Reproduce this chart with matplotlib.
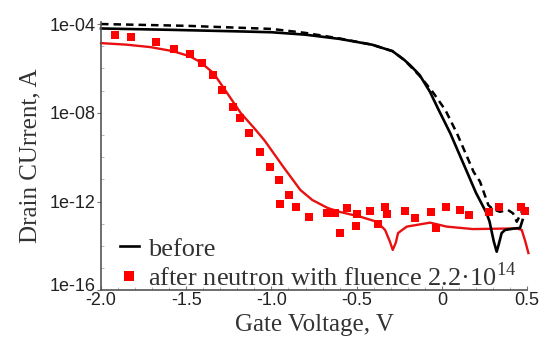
import numpy as np
import matplotlib
matplotlib.use('Agg')
import matplotlib.pyplot as plt
import matplotlib.transforms as mtransforms
from matplotlib.ticker import FixedLocator, MultipleLocator, NullFormatter

plt.rcParams['mathtext.fontset'] = 'custom'
plt.rcParams['mathtext.rm'] = 'Liberation Serif'

# before, solid (gate voltage V, log10 of drain current A)
before_v = [-2.0, -1.6, -1.2, -1.0, -0.8, -0.6, -0.41, -0.29, -0.22, -0.18, -0.13,
            -0.07, -0.018, 0.05, 0.148, 0.2, 0.263, 0.28, 0.305, 0.322, 0.335,
            0.351, 0.371, 0.42, 0.459, 0.474]
before_log = [-4.20, -4.26, -4.33, -4.37, -4.48, -4.67, -4.93, -5.22, -5.62, -5.9, -6.30,
              -7.05, -7.88, -8.93, -10.67, -11.6, -12.53, -12.9, -13.8, -14.26, -13.9,
              -13.42, -13.28, -13.22, -13.19, -12.83]

# before, dashed
dash_v = [-2.0, -1.5, -1.0, -0.8, -0.6, -0.41, -0.29, -0.22, -0.126, -0.05, 0.021,
          0.089, 0.187, 0.224, 0.273, 0.30, 0.341, 0.388, 0.418, 0.44, 0.469, 0.488]
dash_log = [-4.0, -4.08, -4.22, -4.40, -4.65, -4.93, -5.22, -5.62, -6.37, -7.1, -7.88,
            -8.93, -10.67, -11.1, -12.16, -12.35, -12.46, -12.38, -12.53, -12.91, -12.46, -12.29]

# after neutron, line
after_v = [-2.0, -1.85, -1.71, -1.58, -1.48, -1.42, -1.34, -1.26, -1.18, -1.10, -1.04,
           -0.93, -0.83, -0.76, -0.67, -0.597, -0.48, -0.382, -0.333, -0.305, -0.288,
           -0.27, -0.257, -0.206, -0.069, 0.029, 0.183, 0.44, 0.469, 0.49, 0.508]
after_log = [-4.86, -4.93, -5.04, -5.22, -5.45, -5.70, -6.21, -7.11, -8.01, -8.70, -9.25,
             -10.44, -11.48, -11.93, -12.29, -12.47, -12.68, -12.91, -13.28, -13.8, -14.18,
             -13.85, -13.42, -13.13, -12.95, -13.13, -13.24, -13.21, -13.28, -13.8, -14.32]

# after neutron, squares
pts_v = [-1.918, -1.824, -1.677, -1.570, -1.478, -1.409, -1.344, -1.288, -1.224, -1.184,
         -1.131, -1.067, -1.008, -0.954, -0.895, -0.950, -0.854, -0.781, -0.675, -0.627,
         -0.558, -0.597, -0.499, -0.504, -0.421, -0.376, -0.333, -0.323, -0.216, -0.160,
         -0.065, -0.036, 0.025, 0.104, 0.160, 0.277, 0.334, 0.462, 0.491]
pts_log = [-4.50, -4.60, -4.82, -5.13, -5.37, -5.77, -6.30, -6.97, -7.73, -8.25,
           -8.91, -9.75, -10.43, -11.03, -11.71, -12.13, -12.23, -12.68, -12.50, -12.53,
           -12.31, -13.40, -12.58, -13.10, -12.43, -13.03, -12.26, -12.58, -12.41, -12.73,
           -12.46, -13.18, -12.23, -12.38, -12.61, -12.49, -12.26, -12.26, -12.43]

xticks = [-2.0, -1.5, -1.0, -0.5, 0, 0.5]
xlabels = ['-2.0', '-1.5', '-1.0', '-0.5', '0', '0.5']
yticks = [1e-16, 1e-12, 1e-8, 1e-4]
ylabels = ['1e-16', '1e-12', '1e-08', '1e-04']

fig = plt.figure(figsize=(5.44, 3.43), dpi=100)
ax = fig.add_axes([0.1857, 0.1536, 0.7831, 0.7828])

ax.plot(dash_v, 10.0 ** np.array(dash_log), color='black', lw=1.8,
        dashes=(3, 2), clip_on=False)
ax.plot(after_v, 10.0 ** np.array(after_log), color='#e81010', lw=1.7, clip_on=False)
ax.plot(before_v, 10.0 ** np.array(before_log), color='black', lw=1.9,
        label='before', clip_on=False)
ax.plot(pts_v, 10.0 ** np.array(pts_log), 's', color='#ff0000', ms=5.5, mew=0,
        label='after neutron with fluence 2.2·$10^{14}$', clip_on=False)

ax.set_yscale('log')
ax.set_xlim(-2.0, 0.5)
ax.set_ylim(1e-16, 10 ** -3.9)

ax.yaxis.set_major_locator(FixedLocator(yticks))
ax.set_yticklabels(ylabels)
ax.yaxis.set_minor_locator(FixedLocator([10.0 ** k for k in range(-16, -3)]))
ax.yaxis.set_minor_formatter(NullFormatter())
ax.set_xticks(xticks)
ax.set_xticklabels(xlabels)
ax.xaxis.set_minor_locator(MultipleLocator(0.1))

for s in ['top', 'right']:
    ax.spines[s].set_visible(False)
for s in ['left', 'bottom']:
    ax.spines[s].set_color('#555555')
    ax.spines[s].set_linewidth(1.2)

ax.tick_params(axis='both', which='major', length=3, color='#777777', pad=1)
ax.tick_params(axis='both', which='minor', length=2, color='#aaaaaa', direction='in')
ax.tick_params(axis='x', which='major', direction='in')
for lab in ax.get_xticklabels() + ax.get_yticklabels():
    lab.set_family('Liberation Sans')
    lab.set_fontsize(13)
    lab.set_color('#222222')

# lift the bottom y label a little so it clears "-2.0"
lift = mtransforms.ScaledTranslation(0, 4 / 72, fig.dpi_scale_trans)
bottom_lab = ax.get_yticklabels()[0]
bottom_lab.set_transform(bottom_lab.get_transform() + lift)

ax.set_xlabel('Gate Voltage, V', family='Liberation Serif', fontsize=18,
              color='#333333', labelpad=4)
ax.set_ylabel('Drain CUrrent, A', family='Liberation Serif', fontsize=18,
              color='#333333', labelpad=6)

leg = ax.legend(loc='lower left', bbox_to_anchor=(0.02, -0.04), frameon=False,
                handlelength=0.7, handletextpad=0.35, labelspacing=0.05,
                borderaxespad=0.0, markerscale=1.2,
                prop={'family': 'Liberation Serif', 'size': 19})
for t in leg.get_texts():
    t.set_color('#333333')

fig.savefig('out.png', dpi=100)
